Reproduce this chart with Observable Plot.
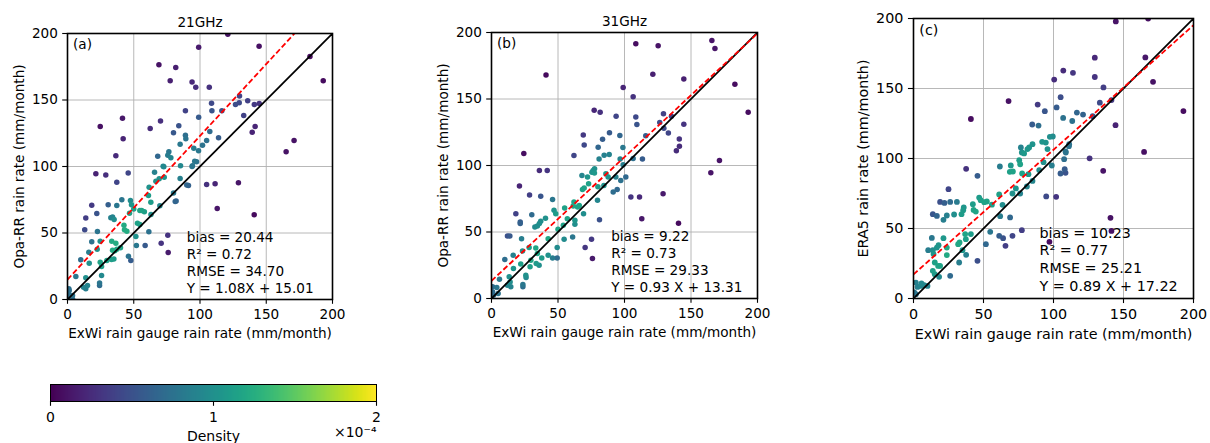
<!DOCTYPE html>
<html><head><meta charset="utf-8">
<script src="https://cdn.jsdelivr.net/npm/d3@7"></script>
<script src="https://cdn.jsdelivr.net/npm/@observablehq/plot@0.6"></script>
<style>
html,body{margin:0;padding:0;background:#fff;}
#wrap{position:relative;width:1210px;height:443px;overflow:hidden;background:#fff;}
#wrap > svg{position:absolute;}
</style></head><body><div id="wrap"></div>
<script>
// ---------- data ----------
const ticks = [0, 50, 100, 150, 200];
const gridTicks = [50, 100, 150];
const lineX = [0, 200];
const cbTicks = [0, 1, 2];

const pointsA = [[121,199.5],[144.6,190.5],[99,189.7],[183,182.7],[69,176.5],[81.7,174.4],[193,164.4],[77.5,164.4],[94,163.6],[96.8,159.6],[107,159.6],
[108.7,147.6],[109,142],[116.5,142],[126.8,146.6],[129.6,148],[136,149.4],[141,146.6],[144.7,147.4],[129.8,153],[89,142],[99,137],[133,138.3],[141.6,130],[139.4,125.8],[171,119.5],[165,111],
[24.7,130],[41.5,136.3],[42,120.8],[36.5,108],[62.4,128.6],[70.2,134.3],[84,130.6],[80,125.3],[89,123.5],[89.3,120.8],[85,116.8],[95.3,113.8],[101.9,116],[105,119.5],[107.4,126.3],[114,121.6],[98.9,111.8],[76.5,111],[75.7,108.5],[78,106.5],[68.1,107.7],[72.7,99.8],[85.3,100.5],[94.3,100.5],[97.4,103.5],
[21.4,94.5],[28.9,93.7],[45.8,95.2],[37.2,88.2],[105,86.5],[111.4,87],[129,87.7],[113,68.4],[140.9,63.7],[91.3,85.7],[81.3,73.7],[69.7,70.5],[75.7,48.4],[70.7,42.3],[76,35.3],[61.4,50.9],
[18.3,70.9],[22.1,64.7],[13.8,61.2],[13,52.4],[22.6,51.1],[30.7,71.2],[37.2,70.7],[41,75],[47.5,74.4],[48.3,71.2],[54.6,66.9],[56,67],[46.8,64.9],[32.7,61.4],[35.2,60.2],[34,62],[61.1,78.2],[62.9,73.2],[61.6,84.4],[66.7,89],[69.2,90.7],[73,92],[72.2,100.2],[65.7,95.7],[52.8,57.4],[54.6,56.4],[43,52.4],[44.8,51.4],[18.3,43.4],[24.7,43.8],[33.4,43.8],[36.5,42.3],[16.1,35.6],[22.4,37.8],[10,29.8],[16.4,27.3],[25.7,24.8],[24.7,28],[29.7,29.3],[33.2,30],[35,30.5],[35.7,36.6],[37.2,37.8],[34,37],[25.7,18],[24.2,10.5],[24.2,12.5],[6.3,17.3],[13.8,16.3],[15.1,10.5],[12.1,9.3],[13.8,8],[1.3,6.8],[1,4],[3.8,3],[0.5,2],[51.6,47.4],[52,40.6],[47.8,29.3],[58.6,40.6],[42.6,55.8],[46,32.6],[40,39],[85,91],[90,86],[80,80],[82,74],[94,100],[96,104],[1,8],[0.3,0.5],[4,0],[58,66],[63,64],[50,68]];

const pointsB = [[108.5,191.5],[125.3,190],[165.7,194],[168,188],[41,168],[121.3,168.7],[144.6,165],[99,158.6],[106.5,151.6],[183,161],[193,140],
[77.2,141.5],[81.7,140],[93.7,137],[108.5,136.5],[109.3,130.8],[129.3,139],[135.3,137],[129.6,128],[133,124.5],[144.6,131],[141.2,120],[141.3,114.5],[139,111],[171.4,103.8],[164.9,94.5],
[69,123],[69.7,115.5],[83.5,119.8],[88.7,124.6],[96.5,122.5],[80.2,113.8],[98.8,113.5],[62,107.5],[24.3,109],[113.5,104.8],[106.5,105.3],[96.7,104.8],[84.7,107.8],[88.5,108.3],[80.9,104.8],[99,100.5],[116,122.3],[126.5,132.3],
[36,96.3],[41.9,96.3],[21,84.5],[28.6,77.8],[37,76.8],[45.9,74.5],[18.3,63.8],[21.6,57.5],[21.6,56.3],[30.3,63],[12,47],[13.8,47],[22.6,45],[40.6,60.3],[37,58],[36,56.3],[32.6,53.8],[34.5,54.5],[47,66.3],[48.3,63.8],[55,68],[61.4,69.5],[62,72.5],[64.7,68.8],[62.7,58.8],[62.7,55.8],[69.2,63.8],[68,92.5],[72.2,91.3],[76.4,96.3],[77.4,94.3],[75.5,95],[77.5,97.5],[73,86.3],[69.7,83],[68.4,82],[79.7,73.8],[81.2,59.3],[80,84],[84.5,85],[86,93.8],[87.7,91.3],[93.5,91.3],[94.5,82],[91.5,80],[97.2,88.8],[101,91.3],
[61,46.3],[54.6,44.5],[49.4,38.3],[49.4,30.5],[45.9,30.5],[42.6,45],[42.6,32.5],[75.2,44.5],[70.4,38.3],[75.9,30],[104.8,76.3],[111.3,76.3],[129,78.8],[113,60],[140.6,56.5],
[10,29.3],[16.3,32.5],[23.3,35.8],[28.3,38.3],[33.3,38],[34.5,33.8],[33.6,26.3],[35.8,25],[29,23.8],[25.8,17.5],[26,15.8],[23.6,10.5],[23.6,8.8],[16.5,22.5],[13.3,16.3],[14,12.5],[14.5,8.8],[12,10],[6,14.5],[4,8.3],[5,3.8],[0.8,8.8],[0.8,5],[1.5,2.5],[22,26],[29.6,28.8],[37.8,30.5],[54,55],[57,60],[66,70],[50,52]];

const pointsC = [[144.5,197.9],[167.6,200],[129.5,172],[165.6,172.2],[107,162.8],[113.9,161.2],[100.5,156.4],[129.5,158.2],[171.1,154.8],[135.7,150.8],[67.9,141],[105.1,143.8],[88.7,138.5],[93.8,133.8],[102.2,136.5],[133.1,139.9],[106.9,129],[113.4,126.8],[116.7,132.8],[121.1,131.4],[128,130.2],[141.4,141.7],[192.8,133.9],[41,128.2],[84.8,124.3],[89.3,123.5],[144.3,123.8],
[85,110.2],[97.4,115.5],[99.5,115.7],[91.9,111.9],[94.5,111.4],[95.7,106.7],[111.2,110.2],[108.8,104.3],[107.6,99.5],[125.8,100.1],[164.7,104.7],[76.7,107.9],[77.4,104.3],[79,103.6],[81.4,106.7],[82.6,107.9],[75.5,98.8],[76.2,95.9],[69.5,95],[61.7,94.3],[68.8,90.5],[71,90.7],[77.6,89.3],[82.1,88.8],[85,84],[81,80],[89.8,91.7],[92.9,97.4],[98.8,95],[105,89.3],[108.6,89.8],[108,92.4],[135.5,91.2],[94.8,72.9],[101.9,72.6],[111,108.8],[108.6,105],
[45.7,87.6],[37.6,92.6],[25,78.1],[19,69],[22.1,68.3],[26.2,69],[31,69],[13.8,60.2],[16.7,59],[23.8,59.3],[21.4,56.2],[29,60],[34.3,60.2],[35.5,63.1],[35.9,65],[42.4,67.4],[42.9,63.3],[44.5,62.1],[46.9,72.1],[48,70.2],[50.5,68.8],[52.4,69.3],[56,67],[61.2,74.3],[70.7,75],[73.1,78.6],[76.2,75],[63.6,66.9],[61.9,58.8],[69,57.9],[61.2,44.8],[64,43.1],[70.7,44.8],[77.4,48.8],[65.7,37.6],[54.8,47.6],[51.7,38.8],[45.7,26.9],[97.1,40.5],[140.7,57.6],[141.4,48.3],
[13.1,43.3],[13.8,34.5],[14.3,31.7],[16.7,36.4],[17.9,38.1],[21.4,43.1],[23.8,36.4],[23.8,31],[17.6,23.3],[19,23.3],[18.3,15.5],[26.2,16.2],[31.9,38.8],[32.9,40],[32.6,25.7],[37.6,31.2],[35,34.5],[36.9,46],[41,46],[37.4,42.4],[10.5,34.5],[15.2,25.7],[13.8,19.8],[15.2,17.4],[5.7,10.7],[5.2,9],[1.7,11.4],[0.5,4.3],[1.7,3.1],[2.9,8.3],[10,9],[7.6,9.5]];

const titles = ["21GHz", "31GHz", ""];
const panelTags = ["(a)", "(b)", "(c)"];
const yLabels = ["Opa-RR rain rate (mm/month)", "Opa-RR rain rate (mm/month)", "ERA5 rain rate (mm/month)"];
const xLabel = "ExWi rain gauge rain rate (mm/month)";
const biases = ["20.44", "9.22", "10.23"];
const r2s = ["0.72", "0.73", "0.77"];
const rmses = ["34.70", "29.33", "25.21"];
const slopes = [1.08, 0.93, 0.89];
const intercepts = [15.01, 13.31, 17.22];
const eqLabels = ["Y = 1.08X + 15.01", "Y = 0.93 X + 13.31", "Y = 0.89 X + 17.22"];

// ---------- helpers ----------
function kde(pts) {
  const n = pts.length;
  const mx = d3.mean(pts, d => d[0]), my = d3.mean(pts, d => d[1]);
  let sxx = 0, syy = 0, sxy = 0;
  for (const [x, y] of pts) { sxx += (x - mx) ** 2; syy += (y - my) ** 2; sxy += (x - mx) * (y - my); }
  sxx /= (n - 1); syy /= (n - 1); sxy /= (n - 1);
  const f2 = Math.pow(n, -1 / 3);
  const a = sxx * f2, b = sxy * f2, c = syy * f2;
  const det = a * c - b * b;
  const ia = c / det, ib = -b / det, ic = a / det;
  const norm = 1 / (2 * Math.PI * Math.sqrt(det) * n);
  return pts.map(([x, y]) => {
    let s = 0;
    for (const [u, v] of pts) { const dx = x - u, dy = y - v; s += Math.exp(-0.5 * (ia * dx * dx + 2 * ib * dx * dy + ic * dy * dy)); }
    return {x, y, z: s * norm};
  }).sort((p, q) => p.z - q.z);
}

const wrap = document.getElementById("wrap");
const geo = [
  {fl: 67, ft: 33, W: 265, H: 266, s: 1},
  {fl: 491, ft: 32, W: 266, H: 266, s: 1},
  {fl: 913, ft: 18, W: 280, H: 280, s: 1.053}
];
const allPoints = [pointsA, pointsB, pointsC];

geo.forEach((g, i) => {
  const s = g.s, fs = 13.6 * s;
  const data = kde(allPoints[i]);
  const ml = 70, mr = 16, mb = 48;
  const slope = slopes[i], icpt = intercepts[i];
  const statText = `bias = ${biases[i]}\nR² = ${r2s[i]}\nRMSE = ${rmses[i]}\n${eqLabels[i]}`;
  const marks = [
    Plot.gridX(gridTicks, {stroke: "#b0b0b0", strokeOpacity: 1, strokeWidth: 0.9}),
    Plot.gridY(gridTicks, {stroke: "#b0b0b0", strokeOpacity: 1, strokeWidth: 0.9}),
    Plot.dot(data, {x: "x", y: "y", fill: "z", r: 2.75 * s, clip: true}),
    Plot.line(lineX, {x: d => d, y: d => d, stroke: "black", strokeWidth: 1.8, strokeLinecap: "butt", clip: true}),
    Plot.line(lineX, {x: d => d, y: d => slope * d + icpt, stroke: "red", strokeWidth: 1.8, strokeLinecap: "butt", strokeDasharray: "5.5,2.6", clip: true}),
    Plot.axisX(ticks, {tickSize: 4.8 * s, tickPadding: 4.8 * s, label: null, strokeWidth: 1.1}),
    Plot.axisY(ticks, {tickSize: 4.8 * s, tickPadding: 4.8 * s, label: null, strokeWidth: 1.1}),
    Plot.frame({stroke: "black", strokeWidth: 1.6}),
    Plot.text([statText], {text: d => d, x: () => 90, frameAnchor: "bottom", textAnchor: "start", lineAnchor: "bottom", lineHeight: 1.25, dy: -(11.8 * s - 0.36 * fs), fill: "black"}),
    Plot.text([panelTags[i]], {text: d => d, frameAnchor: "top-left", textAnchor: "start", lineAnchor: "middle", dx: 5.5 * s, dy: 11.3 * s, fill: "black"}),
    Plot.text([yLabels[i]], {text: d => d, frameAnchor: "left", rotate: -90, textAnchor: "middle", lineAnchor: "middle", dx: -48 * s, fill: "black"}),
    Plot.text([xLabel], {text: d => d, frameAnchor: "bottom", textAnchor: "middle", lineAnchor: "middle", dy: 34 * s, fill: "black"})
  ];
  if (titles[i]) marks.push(Plot.text([titles[i]], {text: d => d, frameAnchor: "top", lineAnchor: "bottom", dy: -7, fill: "black"}));
  const svg = Plot.plot({
    width: ml + g.W + mr, height: g.ft + g.H + mb,
    marginLeft: ml, marginRight: mr, marginTop: g.ft, marginBottom: mb,
    x: {domain: [0, 200]}, y: {domain: [0, 200]},
    color: {type: "linear", scheme: "viridis", domain: [0, 2e-4]},
    style: {fontFamily: "DejaVu Sans", fontSize: fs + "px", background: "transparent", color: "black"},
    marks
  });
  svg.style.left = (g.fl - ml) + "px";
  svg.style.top = "0px";
  wrap.appendChild(svg);
});

// ---------- colorbar ----------
const cb = Plot.plot({
  width: 420, height: 73, marginLeft: 50, marginRight: 44, marginTop: 14, marginBottom: 42,
  x: {domain: [0, 2]}, y: {domain: [0, 1], axis: null},
  color: {type: "linear", scheme: "viridis", domain: [0, 2]},
  style: {fontFamily: "DejaVu Sans", fontSize: "14px", background: "transparent", color: "black"},
  marks: [
    Plot.raster({x1: 0, x2: 2, y1: 0, y2: 1, fill: (x, y) => x, pixelSize: 1}),
    Plot.frame({stroke: "black", strokeWidth: 1}),
    Plot.axisX(cbTicks, {tickSize: 4.8, tickPadding: 6, tickFormat: d => String(d), label: null, strokeWidth: 1.1}),
    Plot.text(["Density"], {text: d => d, frameAnchor: "bottom", lineAnchor: "middle", dy: 35, fill: "black"}),
    Plot.text(["×10⁻⁴"], {text: d => d, frameAnchor: "bottom-right", textAnchor: "end", lineAnchor: "middle", dy: 31, fill: "black"})
  ]
});
cb.style.left = "0px";
cb.style.top = "370px";
wrap.appendChild(cb);
</script>
</body></html>
